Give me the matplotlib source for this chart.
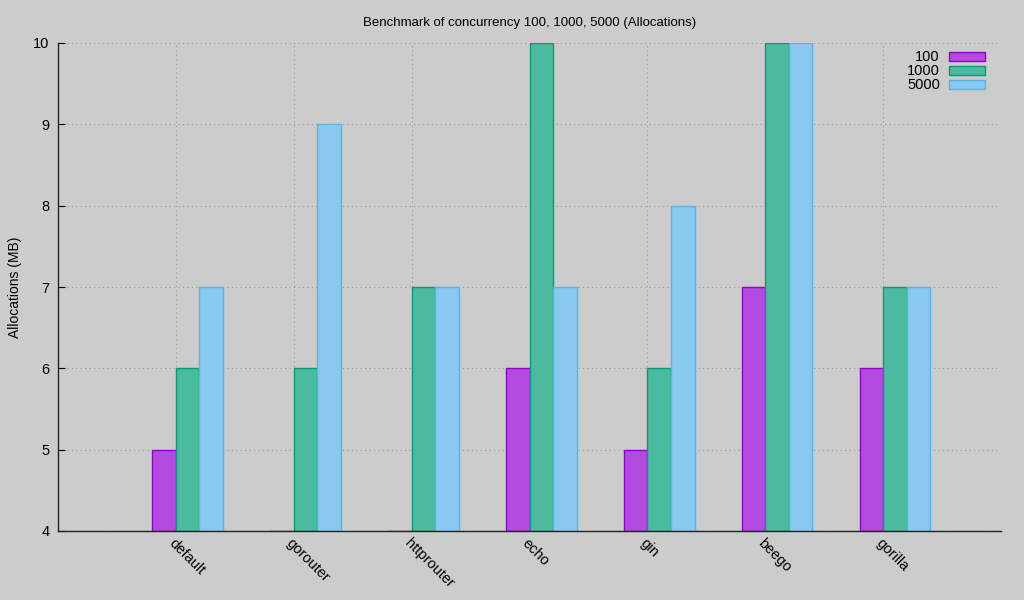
import numpy as np
import matplotlib.pyplot as plt

plt.rcParams['font.family'] = ['Liberation Sans', 'DejaVu Sans']

routers = ['default', 'gorouter', 'httprouter', 'echo', 'gin', 'beego', 'gorilla']
alloc_100 = [5, 4, 4, 6, 5, 7, 6]
alloc_1000 = [6, 6, 7, 10, 6, 10, 7]
alloc_5000 = [7, 9, 7, 7, 8, 10, 7]
series_names = ['100', '1000', '5000']

fills = ['#b34be1', '#4cba9f', '#89c9ef']
edges = ['#9400d3', '#009e73', '#56b4e9']

fig = plt.figure(figsize=(10.24, 6), dpi=100, facecolor='#cccccc')
ax = fig.add_axes([58 / 1024, 69 / 600, 943 / 1024, 488 / 600])
ax.set_facecolor('#cccccc')

x = np.arange(len(routers))
w = 0.2
for k, vals in enumerate([alloc_100, alloc_1000, alloc_5000]):
    ax.bar(x + (k - 0.5) * w, np.array(vals) - 4, w, bottom=4,
           color=fills[k], edgecolor=edges[k], linewidth=1.0,
           label=series_names[k], zorder=3)

ax.set_xlim(-1, 7)
ax.set_ylim(4, 10)
ax.set_yticks(range(4, 11))
ax.set_xticks(x)
ax.set_xticklabels(routers, rotation=-45, ha='left', va='top',
                   rotation_mode='anchor')
ax.tick_params(axis='x', length=0, pad=4, labelsize=10.5)
ax.tick_params(axis='y', direction='in', length=5, labelsize=10.5, pad=6)

ax.grid(color='#999999', linestyle=(0, (1, 3)), linewidth=0.8, zorder=0)
ax.set_axisbelow(True)

for side in ['top', 'right']:
    ax.spines[side].set_visible(False)
for side in ['left', 'bottom']:
    ax.spines[side].set_color('#222222')
    ax.spines[side].set_linewidth(1.0)
    ax.spines[side].set_zorder(5)

ax.set_title('Benchmark of concurrency 100, 1000, 5000 (Allocations)',
             fontsize=9.5, pad=12)
fig.text(15 / 1024, 1 - 287 / 600, 'Allocations (MB)', rotation=90,
         ha='center', va='center', fontsize=10)

ax.legend(loc='upper right', frameon=False, markerfirst=False,
          fontsize=10.5, handlelength=2.5, handleheight=0.55,
          labelspacing=0.0, handletextpad=0.6,
          bbox_to_anchor=(0.997, 1.012))

plt.savefig('out.png', facecolor=fig.get_facecolor())
